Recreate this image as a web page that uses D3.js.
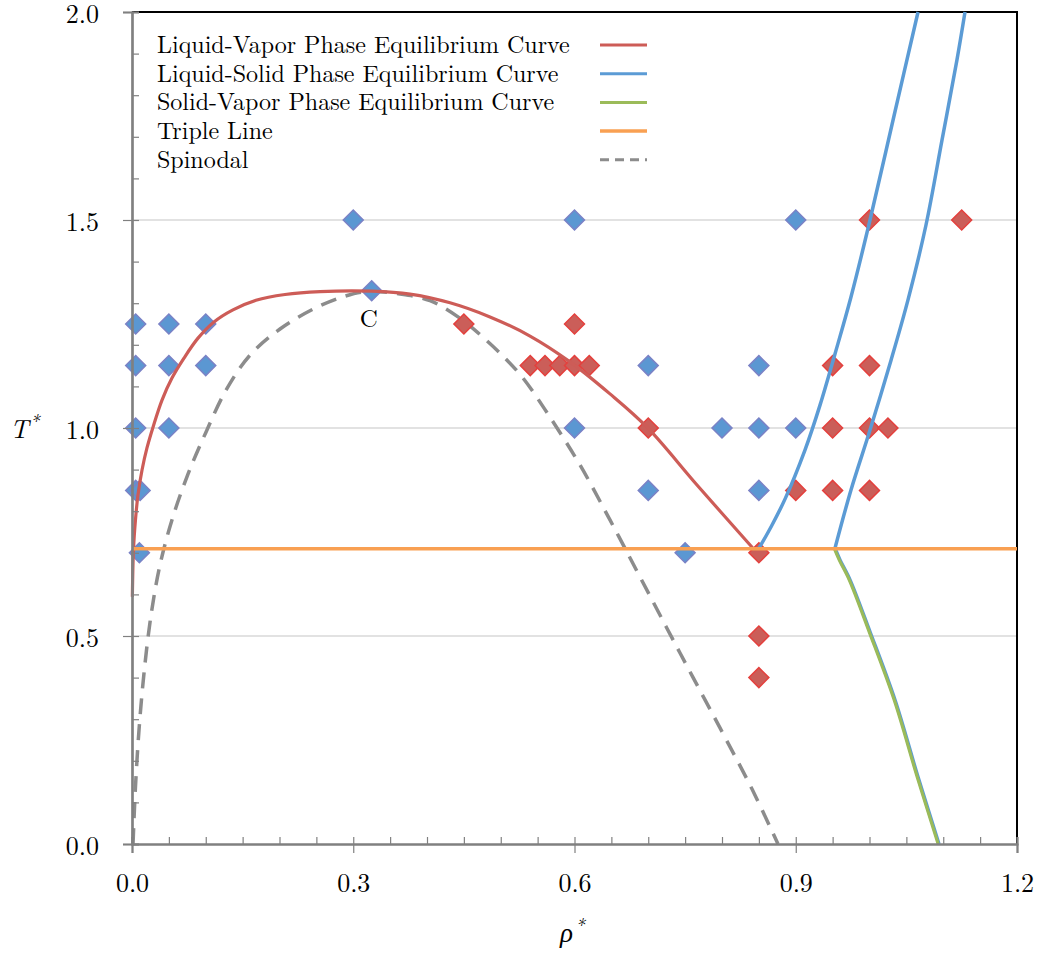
<!DOCTYPE html>
<html>
<head>
<meta charset="utf-8">
<script src="https://cdn.jsdelivr.net/npm/d3@7"></script>
<style>
  html, body { margin: 0; padding: 0; background: #fff; }
  svg { display: block; }
</style>
</head>
<body>
<svg id="chart" width="1037" height="955"></svg>
<script>
// ---------- data ----------
const xTicks = [0.0, 0.3, 0.6, 0.9, 1.2];
const yTicks = [0.0, 0.5, 1.0, 1.5, 2.0];
const gridValues = [0.5, 1.0, 1.5];
const tripleT = 0.71;

// Liquid-vapor coexistence (vapor branch -> critical point -> liquid branch)
const liquidVapor = [
  [0.0005, 0.594], [0.0020, 0.707], [0.0047, 0.779], [0.0081, 0.839], [0.0136, 0.899],
  [0.0203, 0.952], [0.0285, 1.002], [0.0407, 1.067], [0.0542, 1.120], [0.0705, 1.168],
  [0.0895, 1.216], [0.1112, 1.255], [0.1369, 1.284], [0.1681, 1.307], [0.2075, 1.321],
  [0.2549, 1.328], [0.3254, 1.329], [0.3769, 1.322], [0.4312, 1.301], [0.4854, 1.267],
  [0.5397, 1.221], [0.5939, 1.159], [0.6481, 1.082], [0.6983, 1.002], [0.7661, 0.863],
  [0.8420, 0.711]
];
// Liquid-solid coexistence (two branches)
const liquidSolidA = [
  [0.8502, 0.711], [0.8664, 0.762], [0.8854, 0.829], [0.9125, 0.947], [0.9329, 1.055],
  [0.9532, 1.178], [0.9749, 1.315], [1.0007, 1.5], [1.0332, 1.75], [1.0658, 2.0]
];
const liquidSolidB = [
  [0.9532, 0.711], [0.9749, 0.851], [1.0007, 0.995], [1.0292, 1.163], [1.0522, 1.308],
  [1.0766, 1.488], [1.0983, 1.692], [1.1186, 1.885], [1.1295, 2.0]
];
// Solid-vapor coexistence
const solidVapor = [
  [0.9532, 0.711], [0.9600, 0.683], [0.9736, 0.635], [1.0007, 0.510],
  [1.0346, 0.346], [1.0658, 0.161], [1.0942, 0.0]
];
// Spinodal
const spinodal = [
  [0.0014, 0.0], [0.0047, 0.137], [0.0095, 0.274], [0.0163, 0.411], [0.0258, 0.550],
  [0.0380, 0.671], [0.0542, 0.779], [0.0759, 0.889], [0.1003, 0.990], [0.1275, 1.091],
  [0.1600, 1.175], [0.2007, 1.238], [0.2481, 1.288], [0.2888, 1.317], [0.3200, 1.328],
  [0.3634, 1.322], [0.4041, 1.306], [0.4447, 1.264], [0.4786, 1.214], [0.5058, 1.168],
  [0.5302, 1.120], [0.5668, 1.026], [0.6075, 0.911], [0.6481, 0.779], [0.6888, 0.642],
  [0.7431, 0.459], [0.7973, 0.279], [0.8407, 0.132], [0.8759, 0.0]
];
// Simulation state points
const bluePoints = [
  [0.3, 1.5], [0.6, 1.5], [0.9, 1.5], [0.325, 1.33],
  [0.005, 1.25], [0.05, 1.25], [0.1, 1.25],
  [0.005, 1.15], [0.05, 1.15], [0.1, 1.15], [0.7, 1.15], [0.85, 1.15],
  [0.005, 1.0], [0.05, 1.0], [0.6, 1.0], [0.8, 1.0], [0.85, 1.0], [0.9, 1.0],
  [0.005, 0.85], [0.011, 0.85], [0.7, 0.85], [0.85, 0.85],
  [0.01, 0.7], [0.75, 0.7]
];
const redPoints = [
  [1.0, 1.5], [1.125, 1.5],
  [0.45, 1.25], [0.6, 1.25],
  [0.54, 1.15], [0.56, 1.15], [0.58, 1.15], [0.6, 1.15], [0.62, 1.15],
  [0.95, 1.15], [1.0, 1.15],
  [0.7, 1.0], [0.95, 1.0], [1.0, 1.0], [1.025, 1.0],
  [0.9, 0.85], [0.95, 0.85], [1.0, 0.85],
  [0.85, 0.7], [0.85, 0.5], [0.85, 0.4]
];
const legendLabels = [
  "Liquid-Vapor Phase Equilibrium Curve",
  "Liquid-Solid Phase Equilibrium Curve",
  "Solid-Vapor Phase Equilibrium Curve",
  "Triple Line",
  "Spinodal"
];
const legendColors = ["#CD5C57", "#5B9BD5", "#9BBB59", "#F9A052", "#8C8C8C"];
const legendDash = [null, null, null, null, "9,6"];

const FONT = '"Latin Modern Roman", "Liberation Serif", "Times New Roman", serif';

// ---------- layout ----------
const svg = d3.select("#chart");
const L = 132, R = 1017, T = 12, B = 844;
const x = d3.scaleLinear().domain([0, 1.2]).range([L, R]);
const y = d3.scaleLinear().domain([0, 2.0]).range([B, T]);

// gridlines
svg.append("g").selectAll("line").data(gridValues).join("line")
  .attr("x1", L).attr("x2", R)
  .attr("y1", d => y(d)).attr("y2", d => y(d))
  .attr("stroke", "#d9d9d9").attr("stroke-width", 1.3);

// top / right border
svg.append("path")
  .attr("d", `M${L},${T}H${R}V${B}`)
  .attr("fill", "none").attr("stroke", "#000").attr("stroke-width", 2);

const smooth = d3.line().x(d => x(d[0])).y(d => y(d[1])).curve(d3.curveCatmullRom.alpha(0.5));

// spinodal
svg.append("path").attr("d", smooth(spinodal))
  .attr("fill", "none").attr("stroke", "#8C8C8C").attr("stroke-width", 3.5)
  .attr("stroke-dasharray", "16,10");

// points
const diamond = d3.symbol(d3.symbolSquare, 200);
svg.append("g").selectAll("path").data(bluePoints).join("path")
  .attr("d", diamond)
  .attr("transform", d => `translate(${x(d[0])},${y(d[1])}) rotate(45)`)
  .attr("fill", "#5B97D2").attr("stroke", "#7A82C6").attr("stroke-width", 1.5);
svg.append("g").selectAll("path").data(redPoints).join("path")
  .attr("d", diamond)
  .attr("transform", d => `translate(${x(d[0])},${y(d[1])}) rotate(45)`)
  .attr("fill", "#CB5E59").attr("stroke", "#E4403D").attr("stroke-width", 1.5);

// curves
svg.append("path").attr("d", smooth(liquidVapor))
  .attr("fill", "none").attr("stroke", "#CD5C57").attr("stroke-width", 3.2);
[liquidSolidA, liquidSolidB, solidVapor].forEach(s => {
  svg.append("path").attr("d", smooth(s))
    .attr("fill", "none").attr("stroke", "#5B9BD5").attr("stroke-width", 3.5);
});
svg.append("path").attr("d", smooth(solidVapor))
  .attr("transform", "translate(-0.8,0)")
  .attr("fill", "none").attr("stroke", "#9BBB59").attr("stroke-width", 3.2);

// triple line
svg.append("line")
  .attr("x1", L).attr("x2", R).attr("y1", y(tripleT)).attr("y2", y(tripleT))
  .attr("stroke", "#F9A052").attr("stroke-width", 3.5);

// axes
const minorX = d3.range(0, 1.2001, 0.05);
const minorY = d3.range(0, 2.0001, 0.1);
const axisColor = "#808080";

const gxMinor = svg.append("g").attr("transform", `translate(0,${B})`)
  .call(d3.axisBottom(x).tickValues(minorX).tickSize(-7).tickFormat(""));
const gxMajor = svg.append("g").attr("transform", `translate(0,${B})`)
  .call(d3.axisBottom(x).tickValues(xTicks).tickSize(9).tickFormat(d3.format(".1f")));
const gyMinor = svg.append("g").attr("transform", `translate(${L},0)`)
  .call(d3.axisLeft(y).tickValues(minorY).tickSize(-7).tickFormat(""));
const gyMajor = svg.append("g").attr("transform", `translate(${L},0)`)
  .call(d3.axisLeft(y).tickValues(yTicks).tickSize(9).tickFormat(d3.format(".1f")));

[gxMinor, gxMajor, gyMinor, gyMajor].forEach(g => {
  g.attr("font-family", null).attr("font-size", null);
  g.selectAll(".domain").attr("stroke", axisColor).attr("stroke-width", 2.2);
  g.selectAll(".tick line").attr("stroke", axisColor).attr("stroke-width", 1.2);
  g.selectAll("text").attr("fill", "#000")
    .style("font-family", FONT).style("font-size", "26px");
});
gxMajor.selectAll(".tick text").attr("y", 48).attr("dy", null);
gyMajor.selectAll(".tick text").attr("x", -33).attr("y", 10).attr("dy", null);

// axis titles
const xt = svg.append("text").attr("x", 560).attr("y", 942)
  .style("font-family", FONT).style("font-size", "27px").style("font-style", "italic")
  .attr("fill", "#000");
xt.append("tspan").text("ρ");
xt.append("tspan").text("*").style("font-size", "19px").attr("dy", -10).attr("dx", 2);

const yt = svg.append("text").attr("x", 10).attr("y", 438)
  .style("font-family", FONT).style("font-size", "26px").style("font-style", "italic")
  .attr("fill", "#000");
yt.append("tspan").text("T");
yt.append("tspan").text("*").style("font-size", "19px").attr("dy", -10).attr("dx", 1);

// critical point label
svg.append("text").attr("x", x(0.325) - 3).attr("y", 327)
  .attr("text-anchor", "middle")
  .style("font-family", FONT).style("font-size", "25px")
  .attr("fill", "#000").text("C");

// legend
const lg = svg.append("g");
legendLabels.forEach((label, i) => {
  const by = 53 + i * 28.7;
  lg.append("text").attr("x", 157).attr("y", by)
    .style("font-family", FONT).style("font-size", "24px")
    .attr("fill", "#000").text(label);
  lg.append("line").attr("x1", 600).attr("x2", 647)
    .attr("y1", by - 8).attr("y2", by - 8)
    .attr("stroke", legendColors[i]).attr("stroke-width", i === 3 ? 3.5 : 3)
    .attr("stroke-dasharray", legendDash[i]);
});
</script>
</body>
</html>
